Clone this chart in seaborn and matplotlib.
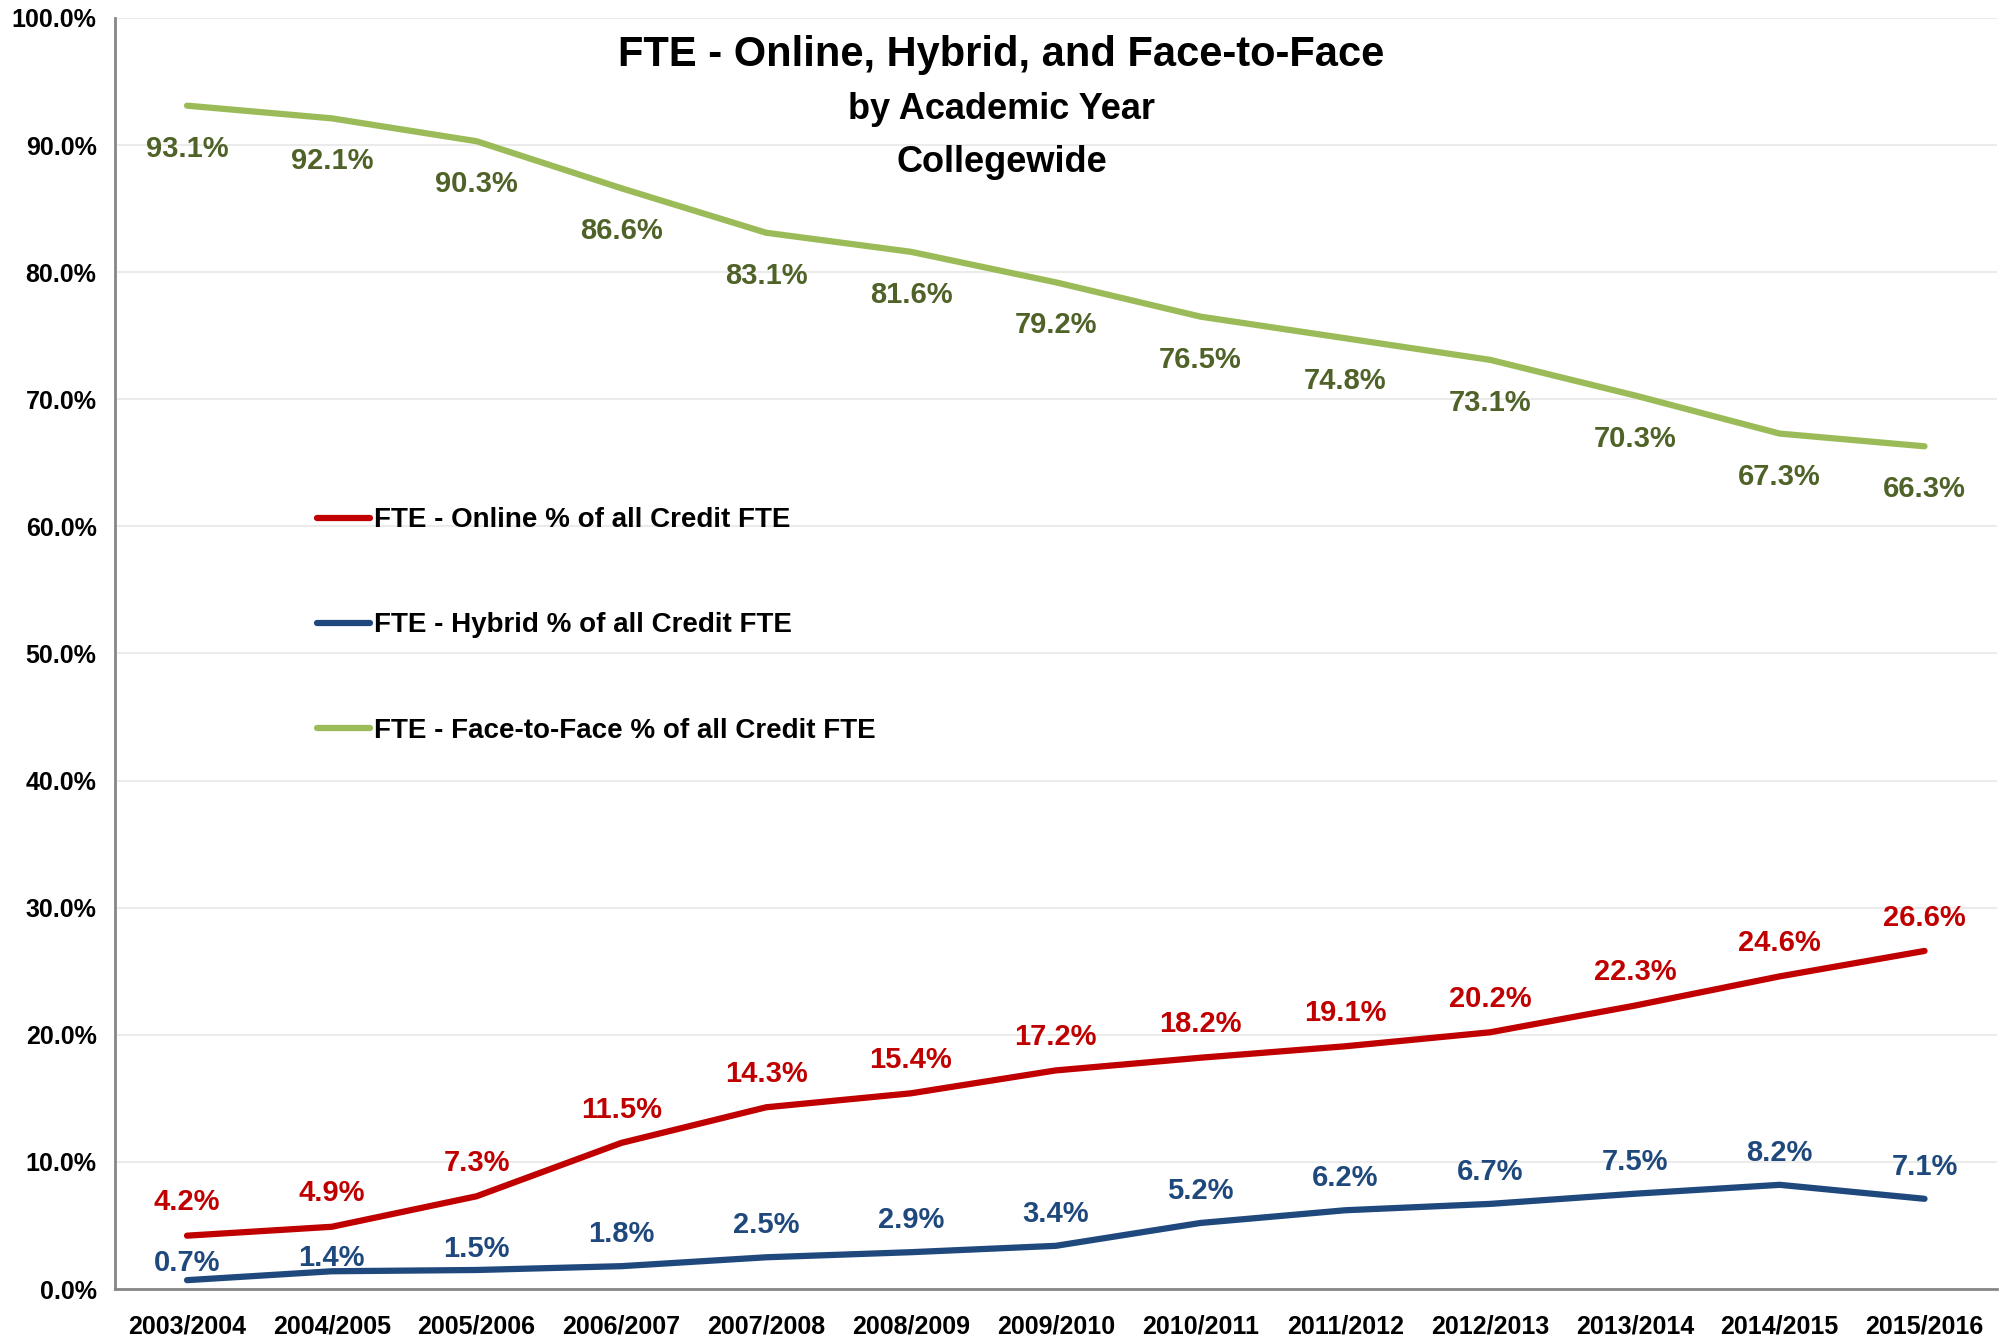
import pandas as pd
import matplotlib.pyplot as plt
import seaborn as sns
import numpy as np

#-------------DATA-------------
years = ["2003/2004", "2004/2005", "2005/2006", "2006/2007", "2007/2008", "2008/2009",
         "2009/2010", "2010/2011", "2011/2012", "2012/2013", "2013/2014", "2014/2015",
         "2015/2016"]
online = [4.2, 4.9, 7.3, 11.5, 14.3, 15.4, 17.2, 18.2, 19.1, 20.2, 22.3, 24.6, 26.6]
hybrid = [0.7, 1.4, 1.5, 1.8, 2.5, 2.9, 3.4, 5.2, 6.2, 6.7, 7.5, 8.2, 7.1]
face = [93.1, 92.1, 90.3, 86.6, 83.1, 81.6, 79.2, 76.5, 74.8, 73.1, 70.3, 67.3, 66.3]

names = ["FTE - Online % of all Credit FTE",
         "FTE - Hybrid % of all Credit FTE",
         "FTE - Face-to-Face % of all Credit FTE"]
line_colors = ["#C00000", "#1F497D", "#9BBB59"]
label_colors = ["#C00000", "#1F497D", "#4F6228"]

# desplazamiento vertical de las etiquetas (puntos)
online_dy = [24] * len(years)
hybrid_dy = [12, 9.5, 15] + [23] * (len(years) - 3)
face_dy = [-31] * len(years)

#-------------STYLE-------------
sns.set_style("white")
plt.rcParams['font.family'] = ['Liberation Sans Narrow', 'Liberation Sans', 'DejaVu Sans']
plt.rcParams['font.weight'] = 'bold'
plt.rcParams['text.color'] = 'black'
plt.rcParams['xtick.color'] = 'black'
plt.rcParams['ytick.color'] = 'black'

df = pd.DataFrame({
    "x": list(range(len(years))) * 3,
    "valor": online + hybrid + face,
    "serie": [names[0]] * len(years) + [names[1]] * len(years) + [names[2]] * len(years),
})

fig = plt.figure(figsize=(20.11, 13.39), dpi=100)
ax = fig.add_axes([0.057, 0.0373, 0.936, 0.9493])

sns.lineplot(data=df, x="x", y="valor", hue="serie", palette=line_colors,
             linewidth=4.5, ax=ax, solid_capstyle="round")

#-------------ETIQUETAS-------------
for i, (serie, dys) in enumerate([(online, online_dy), (hybrid, hybrid_dy), (face, face_dy)]):
    for xi, (v, dy) in enumerate(zip(serie, dys)):
        ax.annotate(f"{v:.1f}%", (xi, v), xytext=(0, dy), textcoords="offset points",
                    ha="center", va="center", fontsize=21, fontweight="bold",
                    color=label_colors[i])

#-------------EJES-------------
ax.set_xlim(-0.5, len(years) - 0.5)
ax.set_ylim(0, 100)
ax.set_yticks(np.arange(0, 101, 10))
ax.set_yticklabels([f"{t:.1f}%" for t in np.arange(0, 101, 10)], fontsize=18, fontweight="bold")
ax.set_xticks(range(len(years)))
ax.set_xticklabels(years, fontsize=18, fontweight="bold")
ax.set_xticks(np.arange(-0.5, len(years), 1), minor=True)
ax.tick_params(axis="x", which="major", length=0, pad=18)
ax.tick_params(axis="x", which="minor", length=9, width=2, color="#868686", direction="out")
ax.tick_params(axis="y", length=9, width=2, color="#868686", direction="out", pad=4)
ax.grid(axis="y", color="#EBEBEB", linewidth=1.5)
ax.set_axisbelow(True)
ax.set_xlabel("")
ax.set_ylabel("")
for lado in ["top", "right"]:
    ax.spines[lado].set_visible(False)
for lado in ["left", "bottom"]:
    ax.spines[lado].set_color("#868686")
    ax.spines[lado].set_linewidth(2)

#-------------TITULO-------------
fig.text(0.498, 0.959, "FTE - Online, Hybrid, and Face-to-Face", ha="center", va="center",
         fontsize=30, fontweight="bold")
fig.text(0.498, 0.918, "by Academic Year", ha="center", va="center", fontsize=26, fontweight="bold")
fig.text(0.498, 0.879, "Collegewide", ha="center", va="center", fontsize=26, fontweight="bold")

#-------------LEYENDA-------------
leg = ax.legend(loc="upper left", bbox_to_anchor=(0.1075, 0.615), frameon=False,
                fontsize=20, labelspacing=2.85, handlelength=1.9, handletextpad=0.15,
                borderpad=0, borderaxespad=0)
for linea in leg.get_lines():
    linea.set_linewidth(4.5)

plt.savefig("out.png", dpi=100)
